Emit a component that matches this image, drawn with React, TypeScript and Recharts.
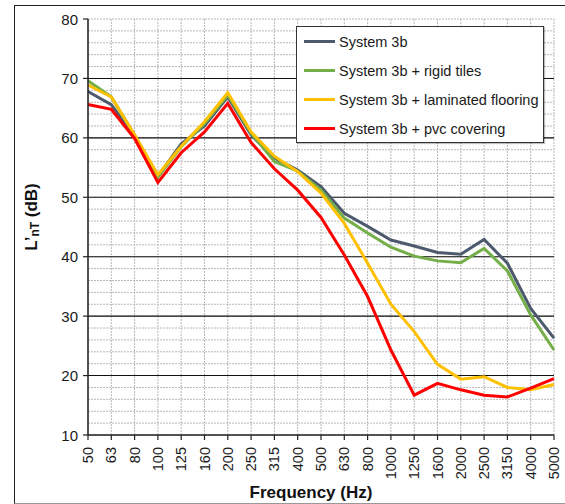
import React from 'react';
import { LineChart, Line, XAxis, YAxis, CartesianGrid, ReferenceLine, Legend } from 'recharts';

const frequencies = ['50','63','80','100','125','160','200','250','315','400','500','630','800','1000','1250','1600','2000','2500','3150','4000','5000'];
const system3b = [67.8, 65.6, 60.2, 53.5, 59.0, 62.0, 66.9, 60.5, 56.6, 54.6, 51.8, 47.3, 45.1, 42.8, 41.8, 40.7, 40.4, 42.9, 38.9, 31.3, 26.3];
const rigidTiles = [69.6, 66.9, 60.5, 53.4, 58.5, 62.4, 67.2, 60.8, 56.0, 54.4, 51.2, 46.5, 44.0, 41.6, 40.1, 39.3, 39.0, 41.4, 37.6, 30.2, 24.3];
const laminated = [68.9, 66.9, 60.5, 53.8, 58.6, 62.7, 67.6, 61.0, 56.9, 54.3, 50.7, 45.6, 38.9, 32.0, 27.4, 21.9, 19.4, 19.8, 18.0, 17.6, 18.5];
const pvc = [65.6, 64.8, 59.9, 52.5, 57.5, 61.0, 65.8, 59.2, 54.8, 51.2, 46.6, 40.3, 33.3, 24.3, 16.7, 18.7, 17.6, 16.7, 16.4, 17.9, 19.5];
const yGridTicks = [10,12,14,16,18,20,22,24,26,28,30,32,34,36,38,40,42,44,46,48,50,52,54,56,58,60,62,64,66,68,70,72,74,76,78,80];
const yMajorLines = [20, 30, 40, 50, 60, 70];

const series = [
  { key: 's3b', name: 'System 3b', color: '#4D5A6E' },
  { key: 'tiles', name: 'System 3b + rigid tiles', color: '#74AE48' },
  { key: 'lam', name: 'System 3b + laminated flooring', color: '#FFC000' },
  { key: 'pvc', name: 'System 3b + pvc covering', color: '#FF0000' },
];

const data = frequencies.map((f, i) => ({
  f,
  s3b: system3b[i],
  tiles: rigidTiles[i],
  lam: laminated[i],
  pvc: pvc[i],
}));

const FONT = 'Arial, "Liberation Sans", sans-serif';

const XTick = (props: any) => {
  const { x, y, payload } = props;
  return (
    <g>
      <line x1={x} y1={y - 8} x2={x} y2={y - 3} stroke="#222" strokeWidth={1.2} />
      <text
        x={x}
        y={y + 4}
        transform={`rotate(-90, ${x}, ${y + 4})`}
        textAnchor="end"
        dominantBaseline="central"
        fontFamily={FONT}
        fontSize={14.5}
        fill="#1a1a1a"
      >
        {payload.value}
      </text>
    </g>
  );
};

const YTick = (props: any) => {
  const { x, y, payload } = props;
  if (payload.value % 10 !== 0) return <g />;
  return (
    <g>
      <line x1={x + 3} y1={y} x2={x + 8} y2={y} stroke="#222" strokeWidth={1.2} />
      <text
        x={x - 2}
        y={y}
        textAnchor="end"
        dominantBaseline="central"
        fontFamily={FONT}
        fontSize={15}
        fill="#1a1a1a"
      >
        {payload.value}
      </text>
    </g>
  );
};

const YLabel = () => (
  <text
    x={31}
    y={217}
    transform="rotate(-90, 31, 217)"
    textAnchor="middle"
    dominantBaseline="central"
    fontFamily={FONT}
    fontWeight="bold"
    fontSize={17}
    fill="#111"
  >
    L’<tspan fontSize={12} dy={4}>nT</tspan><tspan dy={-4}> (dB)</tspan>
  </text>
);

const XLabel = () => (
  <text
    x={311}
    y={492}
    textAnchor="middle"
    dominantBaseline="central"
    fontFamily={FONT}
    fontWeight="bold"
    fontSize={17}
    fill="#111"
  >
    Frequency (Hz)
  </text>
);

const LegendBox = () => (
  <div
    style={{
      width: 248,
      height: 117,
      border: '1.3px solid #333',
      background: '#fff',
      boxSizing: 'border-box',
      boxShadow: '1px 1px 1px rgba(0,0,0,0.25)',
      paddingTop: 0,
    }}
  >
    {series.map((s) => (
      <div key={s.key} style={{ display: 'flex', alignItems: 'center', height: 29, marginTop: 0 }}>
        <div style={{ width: 31, height: 3, background: s.color, marginLeft: 7, marginRight: 4 }} />
        <span style={{ fontFamily: FONT, fontSize: 14.5, color: '#1a1a1a', whiteSpace: 'nowrap' }}>{s.name}</span>
      </div>
    ))}
  </div>
);

export default function App() {
  return (
    <div style={{ position: 'absolute', left: 0, top: 0, width: 565, height: 504, background: '#fff', overflow: 'hidden' }}>
      <div
        style={{
          position: 'absolute',
          left: 14,
          top: 5,
          width: 560,
          height: 497,
          borderLeft: '1.5px solid #222',
          borderTop: '1.5px solid #222',
          borderBottom: '1.5px solid #999',
        }}
      />
      <div style={{ position: 'absolute', left: 0, top: 0 }}>
        <LineChart width={565} height={504} data={data} margin={{ top: 19, right: 11, bottom: 9, left: 0 }}>
          <CartesianGrid stroke="#b8b8b8" strokeDasharray="2 1" strokeWidth={1} />
          <XAxis
            dataKey="f"
            type="category"
            interval={0}
            height={60}
            tick={<XTick />}
            tickLine={false}
            axisLine={{ stroke: '#222', strokeWidth: 1.5 }}
            label={<XLabel />}
          />
          <YAxis
            type="number"
            domain={[10, 80]}
            ticks={yGridTicks}
            interval={0}
            width={88}
            tick={<YTick />}
            tickLine={false}
            axisLine={{ stroke: '#222', strokeWidth: 1.5 }}
            label={<YLabel />}
          />
          {yMajorLines.map((v) => (
            <ReferenceLine key={v} y={v} stroke="#111" strokeWidth={1.1} />
          ))}
          {series.map((s) => (
            <Line
              key={s.key}
              dataKey={s.key}
              name={s.name}
              stroke={s.color}
              strokeWidth={3}
              dot={false}
              isAnimationActive={false}
            />
          ))}
          <Legend
            layout="vertical"
            align="center"
            verticalAlign="middle"
            content={<LegendBox />}
            wrapperStyle={{ position: 'absolute', left: 296, top: 26, width: 248, height: 117 }}
          />
        </LineChart>
      </div>
    </div>
  );
}
